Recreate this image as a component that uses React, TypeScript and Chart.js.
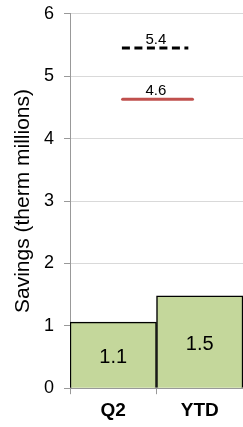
import React, { useEffect, useRef } from "react";
import { Chart, registerables } from "chart.js";

Chart.register(...registerables);

const categories = ["Q2", "YTD"];
const barValues = [1.06, 1.48];
const barLabels = ["1.1", "1.5"];
const targetBlackX = [0.5, 1.46];
const targetBlackY = [5.45, 5.45];
const targetBlackLabel = "5.4";
const targetRedX = [0.51, 1.52];
const targetRedY = [4.63, 4.63];
const targetRedLabel = "4.6";
const labelX = 0.99;
const yTitle = "Savings (therm millions)";

const FONT = "'Liberation Sans', Arial, sans-serif";

const labelPlugin = {
  id: "valueLabels",
  afterDatasetsDraw(chart: any) {
    const ctx = chart.ctx;
    ctx.save();
    ctx.fillStyle = "#000";
    ctx.textAlign = "center";
    const meta = chart.getDatasetMeta(0);
    meta.data.forEach((bar: any, i: number) => {
      ctx.font = `20px ${FONT}`;
      ctx.textBaseline = "middle";
      const cy = (bar.y + bar.base) / 2 + 3;
      ctx.fillText(barLabels[i], bar.x, cy);
    });
    const xs = chart.scales.x2;
    const ys = chart.scales.y;
    ctx.font = `15px ${FONT}`;
    ctx.textBaseline = "alphabetic";
    ctx.fillText(targetBlackLabel, xs.getPixelForValue(labelX), ys.getPixelForValue(targetBlackY[0]) - 4);
    ctx.fillText(targetRedLabel, xs.getPixelForValue(labelX), ys.getPixelForValue(targetRedY[0]) - 4);
    ctx.restore();
  },
};

export default function App() {
  const ref = useRef<HTMLCanvasElement>(null);
  useEffect(() => {
    document.body.style.margin = "0";
    document.body.style.overflow = "hidden";
    const chart = new Chart(ref.current!, {
      type: "bar",
      data: {
        labels: categories,
        datasets: [
          {
            type: "bar",
            data: barValues,
            backgroundColor: "#C4D79B",
            borderColor: "#000",
            borderWidth: 1.5,
            barPercentage: 1,
            categoryPercentage: 1,
            grouped: false,
            xAxisID: "x",
          } as any,
          {
            type: "line",
            data: targetBlackX.map((x, i) => ({ x, y: targetBlackY[i] })),
            borderColor: "#000",
            borderWidth: 3,
            borderDash: [8, 4.5],
            pointRadius: 0,
            xAxisID: "x2",
          } as any,
          {
            type: "line",
            data: targetRedX.map((x, i) => ({ x, y: targetRedY[i] })),
            borderColor: "#C0504D",
            borderWidth: 3,
            borderCapStyle: "round",
            pointRadius: 0,
            xAxisID: "x2",
          } as any,
        ],
      },
      options: {
        animation: false,
        responsive: false,
        layout: { padding: { top: 0, right: 0, bottom: 0, left: 13 } },
        plugins: { legend: { display: false }, tooltip: { enabled: false } },
        datasets: { bar: { barPercentage: 1, categoryPercentage: 1, grouped: false } },
        scales: {
          x: {
            type: "category",
            offset: true,
            grid: {
              drawOnChartArea: false,
              drawTicks: true,
              tickLength: 6,
              tickColor: "#999",
              offset: true,
            },
            border: { color: "#999" },
            ticks: {
              color: "#000",
              font: { family: FONT, size: 19, weight: "bold" },
              padding: 5,
            },
          },
          x2: {
            type: "linear",
            min: 0,
            max: 2,
            display: false,
          },
          y: {
            min: 0,
            max: 6,
            ticks: {
              stepSize: 1,
              color: "#000",
              font: { family: FONT, size: 18 },
              padding: 10,
            },
            grid: { color: "#d9d9d9", tickLength: 6, tickColor: "#999" },
            border: { color: "#999" },
            title: {
              display: true,
              text: yTitle,
              color: "#000",
              font: { family: FONT, size: 21, lineHeight: 1.0 },
              padding: { top: 0, bottom: 0 },
            },
          },
        },
      } as any,
      plugins: [labelPlugin],
    });
    return () => chart.destroy();
  }, []);
  return (
    <div style={{ position: "absolute", left: 0, top: -7, width: 243, height: 434 }}>
      <canvas ref={ref} width={243} height={434} style={{ display: "block" }} />
    </div>
  );
}
